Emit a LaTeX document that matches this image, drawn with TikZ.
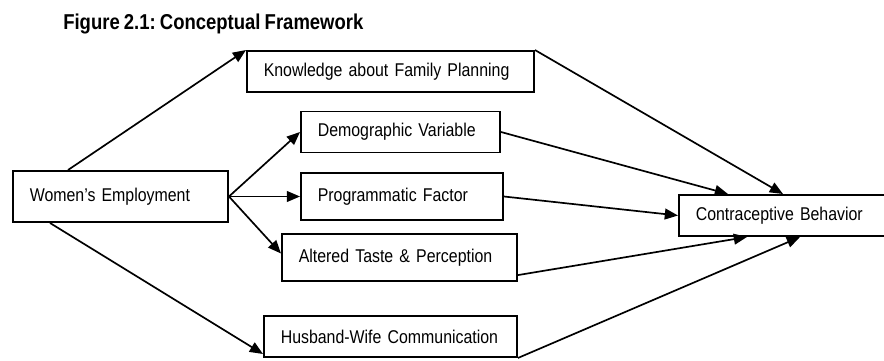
\documentclass[tikz,border=0pt]{standalone}
\usepackage{fontspec}
\setmainfont{Liberation Sans}[FakeStretch=0.86,WordSpace=0.8]
\frenchspacing
\usetikzlibrary{arrows.meta}

\begin{document}
\begin{tikzpicture}[
    factor/.style={draw,line width=1.4pt,anchor=west,align=left,inner xsep=0.42cm,inner ysep=0pt,
      minimum height=1.025cm,font=\fontsize{13.15}{15}\selectfont},
    link/.style={line width=1.2pt,-{Triangle[length=0.33cm,width=0.27cm]}}]
  \useasboundingbox (0,0) rectangle (22.1,9);
  % heading
  \node[anchor=west,inner sep=0pt,font=\bfseries\fontsize{15.3}{17}\selectfont] (title) at (1.575,8.4)
    {Figure 2.1: Conceptual Framework};

  %% the boxes: left edge at x, middle at y
  \node[factor,text width=4.535cm,minimum height=1.275cm] (women) at (0.3,4.0875) {Women's Employment};
  \node[factor,text width=6.335cm] (know) at (6.15,7.2125) {Knowledge about Family Planning};
  \node[factor,text width=4.135cm] (demo) at (7.5,5.7) {Demographic Variable};
  \node[factor,text width=4.21cm,minimum height=1.175cm] (prog) at (7.5,4.0875) {Programmatic Factor};
  \node[factor,text width=5.035cm,minimum height=1.175cm] (alt) at (7.025,2.5625) {Altered Taste \& Perception};
  \node[factor,text width=5.485cm] (hus) at (6.575,0.5875) {Husband-Wife Communication};
  \node[factor,text width=4.76cm] (contra) at (16.95,3.6125) {Contraceptive Behavior};

  %% employment out to the factors
  \draw[link] ([xshift=1.4cm]women.north west) -- (know.north west);
  \foreach \t/\s in {demo/0,prog/0,alt/0.1}
    \draw[link] (women.east) -- ([yshift=\s cm]\t.west);
  \draw[link] ([xshift=0.95cm]women.south west) -- ([yshift=0.1cm]hus.south west);

  %% factors in to behaviour
  \foreach \s/\e in {know.north east/2.625,demo.east/1.25}
    \draw[link] (\s) -- ([xshift=\e cm]contra.north west);
  \draw[link] (prog.east) -- (contra.west);
  \foreach \s/\y/\e in {alt.east/-0.44/1.725,hus.south east/0/3.05}
    \draw[link] ([yshift=\y cm]\s) -- ([xshift=\e cm]contra.south west);
\end{tikzpicture}
\end{document}
